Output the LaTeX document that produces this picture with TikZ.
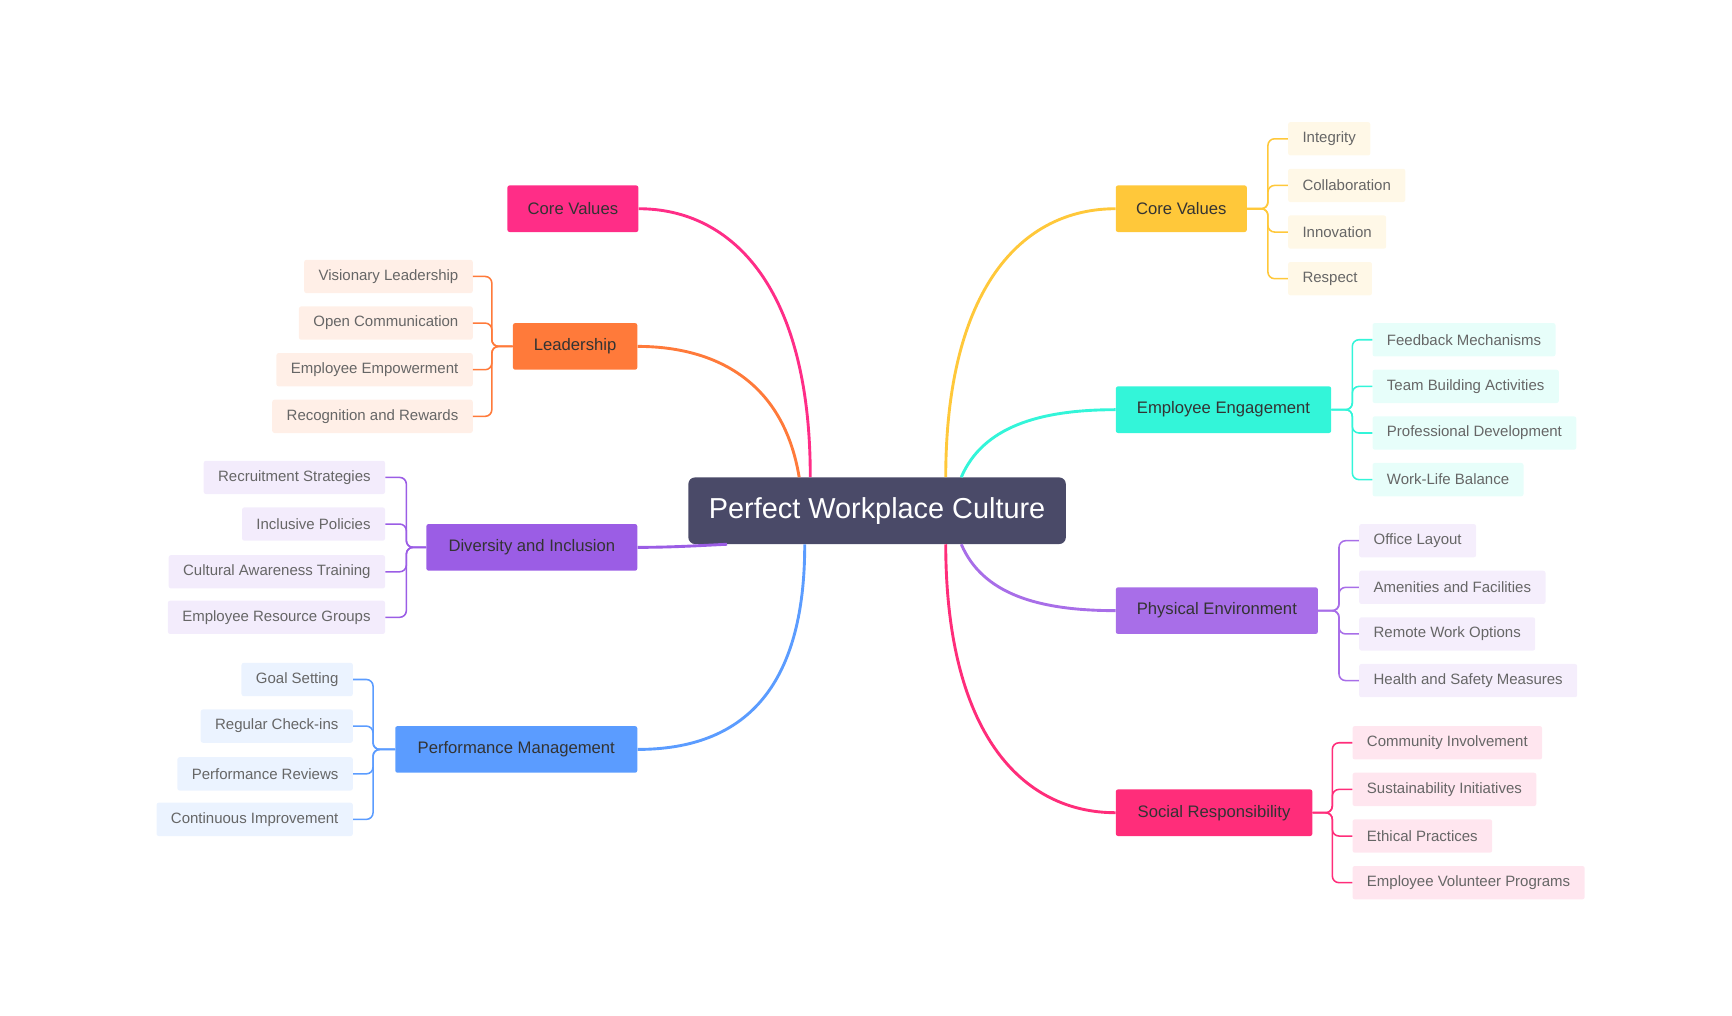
\documentclass[tikz,border=0pt]{standalone}
\usepackage{fontspec}
\setmainfont{Liberation Sans}
\definecolor{cen}{HTML}{4A4A68}
\definecolor{cpink}{HTML}{FF2D87}
\definecolor{corange}{HTML}{FF7A3A}
\definecolor{cpurple}{HTML}{9B5DE5}
\definecolor{cblue}{HTML}{5B9CFF}
\definecolor{cyellow}{HTML}{FFC83A}
\definecolor{cteal}{HTML}{33F5D9}
\definecolor{cviolet}{HTML}{A86EE8}
\definecolor{crose}{HTML}{FF2D7A}
\definecolor{ltext}{HTML}{666666}
\tikzset{
 mainbox/.style={fill=#1, rounded corners=2pt, minimum height=42pt, inner xsep=18pt, font=\fontsize{15}{18}\selectfont, text=black!80},
 kidbox/.style={fill=#1!12, rounded corners=2pt, minimum height=30pt, inner xsep=13pt, font=\fontsize{13.5}{16}\selectfont, text=ltext},
 link/.style={draw=#1, line width=2.6pt},
 brk/.style={draw=#1, line width=1.4pt, rounded corners=6pt},
}
\newcommand{\kid}[6]{\node[kidbox=#5, anchor=#6] (#1) at (#2,#3) {#4};}
\begin{document}
\begin{tikzpicture}[x=1pt,y=-1pt]
\useasboundingbox (0,0) rectangle (1560,915);
% center
\node[fill=cen, rounded corners=6pt, minimum width=340pt, minimum height=60pt, text=white, font=\fontsize{26}{30}\selectfont] (c) at (790,460) {Perfect Workplace Culture};
% main nodes
\node[mainbox=cpink, minimum width=118pt] (lcv) at (516,188) {Core Values};
\node[mainbox=corange, minimum width=112pt] (ld) at (518,312) {Leadership};
\node[mainbox=cpurple, minimum width=190pt] (di) at (479,493) {Diversity and Inclusion};
\node[mainbox=cblue, minimum width=218pt] (pm) at (465,675) {Performance Management};
\node[mainbox=cyellow, minimum width=118pt] (rcv) at (1064,188) {Core Values};
\node[mainbox=cteal, minimum width=194pt] (ee) at (1102,369) {Employee Engagement};
\node[mainbox=cviolet, minimum width=182pt] (pe) at (1096,550) {Physical Environment};
\node[mainbox=crose, minimum width=177pt] (sr) at (1093.5,732) {Social Responsibility};
% main links
\draw[link=cpink] (c.north west) ++(110,0) coordinate (a1) (a1) .. controls (730,260) and (660,188) .. (lcv.east);
\draw[link=corange] (c.north west) ++(100,0) coordinate (a2) (a2) .. controls (705,340) and (640,312) .. (ld.east);
\draw[link=cpurple] (c.south west) ++(35,0) coordinate (a3) (a3) .. controls (620,492) and (600,493) .. (di.east);
\draw[link=cblue] (c.south west) ++(105,0) coordinate (a4) (a4) .. controls (725,620) and (670,675) .. (pm.east);
\draw[link=cyellow] (c.north west) ++(232,0) coordinate (a5) (a5) .. controls (852,260) and (920,188) .. (rcv.west);
\draw[link=cteal] (c.north west) ++(246,0) coordinate (a6) (a6) .. controls (885,385) and (935,369) .. (ee.west);
\draw[link=cviolet] (c.south west) ++(246,0) coordinate (a7) (a7) .. controls (885,535) and (935,550) .. (pe.west);
\draw[link=crose] (c.south west) ++(232,0) coordinate (a8) (a8) .. controls (852,660) and (920,732) .. (sr.west);
% left children
\kid{l1}{426}{249}{Visionary Leadership}{corange}{east}
\kid{l2}{426}{291}{Open Communication}{corange}{east}
\kid{l3}{426}{333}{Employee Empowerment}{corange}{east}
\kid{l4}{426}{375}{Recognition and Rewards}{corange}{east}
\foreach \k in {l1,l2,l3,l4} \draw[brk=corange] (ld.west) -- (443,312) |- (\k.east);
\kid{d1}{347}{430}{Recruitment Strategies}{cpurple}{east}
\kid{d2}{347}{472}{Inclusive Policies}{cpurple}{east}
\kid{d3}{347}{515}{Cultural Awareness Training}{cpurple}{east}
\kid{d4}{347}{556}{Employee Resource Groups}{cpurple}{east}
\foreach \k in {d1,d2,d3,d4} \draw[brk=cpurple] (di.west) -- (366,493) |- (\k.east);
\kid{p1}{318}{612}{Goal Setting}{cblue}{east}
\kid{p2}{318}{654}{Regular Check-ins}{cblue}{east}
\kid{p3}{318}{697}{Performance Reviews}{cblue}{east}
\kid{p4}{318}{738}{Continuous Improvement}{cblue}{east}
\foreach \k in {p1,p2,p3,p4} \draw[brk=cblue] (pm.west) -- (336,675) |- (\k.east);
% right children
\kid{c1}{1160}{125}{Integrity}{cyellow}{west}
\kid{c2}{1160}{167}{Collaboration}{cyellow}{west}
\kid{c3}{1160}{209}{Innovation}{cyellow}{west}
\kid{c4}{1160}{251}{Respect}{cyellow}{west}
\foreach \k in {c1,c2,c3,c4} \draw[brk=cyellow] (rcv.east) -- (1142,188) |- (\k.west);
\kid{e1}{1236}{306}{Feedback Mechanisms}{cteal}{west}
\kid{e2}{1236}{348}{Team Building Activities}{cteal}{west}
\kid{e3}{1236}{390}{Professional Development}{cteal}{west}
\kid{e4}{1236}{432}{Work-Life Balance}{cteal}{west}
\foreach \k in {e1,e2,e3,e4} \draw[brk=cteal] (ee.east) -- (1218,369) |- (\k.west);
\kid{f1}{1224}{487}{Office Layout}{cviolet}{west}
\kid{f2}{1224}{529}{Amenities and Facilities}{cviolet}{west}
\kid{f3}{1224}{571}{Remote Work Options}{cviolet}{west}
\kid{f4}{1224}{613}{Health and Safety Measures}{cviolet}{west}
\foreach \k in {f1,f2,f3,f4} \draw[brk=cviolet] (pe.east) -- (1206,550) |- (\k.west);
\kid{s1}{1218}{669}{Community Involvement}{crose}{west}
\kid{s2}{1218}{711}{Sustainability Initiatives}{crose}{west}
\kid{s3}{1218}{753}{Ethical Practices}{crose}{west}
\kid{s4}{1218}{795}{Employee Volunteer Programs}{crose}{west}
\foreach \k in {s1,s2,s3,s4} \draw[brk=crose] (sr.east) -- (1200,732) |- (\k.west);
\end{tikzpicture}
\end{document}
